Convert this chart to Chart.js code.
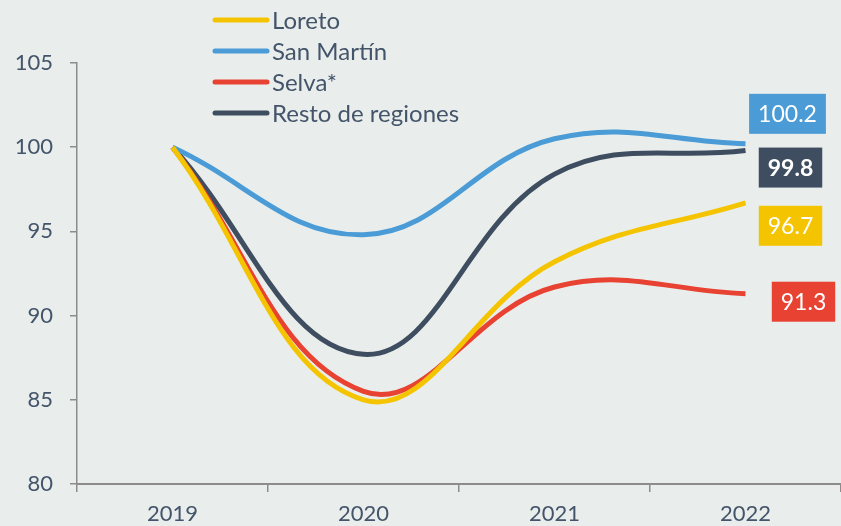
<!DOCTYPE html>
<html><head><meta charset="utf-8">
<script src="https://cdn.jsdelivr.net/npm/chart.js@4/dist/chart.umd.min.js"></script>
<style>html,body{margin:0;padding:0;background:#e9eeec;}canvas{display:block;}</style>
</head><body>
<canvas id="c" width="841" height="526"></canvas>
<script>
const years = ['2019', '2020', '2021', '2022'];
const loreto = [100, 85.0, 93.2, 96.7];
const sanMartin = [100, 94.8, 100.5, 100.2];
const selva = [100, 85.5, 91.7, 91.3];
const resto = [100, 87.7, 98.4, 99.8];
const yTicks = [80, 85, 90, 95, 100, 105];

const TXT = '#44546a';
const FONT = 'Lato, "Open Sans", sans-serif';

const series = [
  {label: 'Loreto', data: loreto, color: '#f5c400', box: {dx: 45, dy: 23, bold: false}},
  {label: 'San Martín', data: sanMartin, color: '#4a9bd6', box: {dx: 42, dy: -30, bold: false}},
  {label: 'Selva*', data: selva, color: '#e84232', box: {dx: 58, dy: 8, bold: false}},
  {label: 'Resto de regiones', data: resto, color: '#3f4d60', box: {dx: 45, dy: 17, bold: true}}
];

const legendPlugin = {
  id: 'legendLines',
  afterDraw(chart) {
    const ctx = chart.ctx;
    ctx.save();
    ctx.font = '24px ' + FONT;
    ctx.textBaseline = 'middle';
    chart.data.datasets.forEach((ds, i) => {
      const y = 20 + i * 31;
      ctx.strokeStyle = ds.borderColor;
      ctx.lineWidth = 5;
      ctx.lineCap = 'round';
      ctx.beginPath(); ctx.moveTo(215, y); ctx.lineTo(267, y); ctx.stroke();
      ctx.fillStyle = TXT;
      ctx.textAlign = 'left';
      ctx.fillText(ds.label, 272, y + 1);
    });
    ctx.restore();
  }
};

const boxPlugin = {
  id: 'endBoxes',
  afterDatasetsDraw(chart) {
    const ctx = chart.ctx;
    ctx.save();
    chart.data.datasets.forEach((ds, i) => {
      const meta = chart.getDatasetMeta(i);
      const pt = meta.data[meta.data.length - 1];
      const v = ds.data[ds.data.length - 1];
      const b = series[i].box;
      const txt = v.toFixed(1);
      ctx.font = (b.bold ? 'bold ' : '') + '23px ' + FONT;
      const w = ctx.measureText(txt).width + 18;
      const h = 40;
      const cx = pt.x + b.dx, cy = pt.y + b.dy;
      ctx.fillStyle = ds.borderColor;
      ctx.fillRect(cx - w / 2, cy - h / 2, w, h);
      ctx.fillStyle = '#ffffff';
      ctx.textAlign = 'center';
      ctx.textBaseline = 'middle';
      ctx.fillText(txt, cx, cy + 1);
    });
    ctx.restore();
  }
};

new Chart(document.getElementById('c'), {
  type: 'line',
  data: {
    labels: years,
    datasets: series.map(s => ({
      label: s.label, data: s.data, borderColor: s.color, backgroundColor: s.color,
      borderWidth: 5, pointRadius: 0, tension: 0.4, fill: false, clip: false
    }))
  },
  options: {
    responsive: false,
    animation: false,
    layout: {padding: {top: 63, right: -4, left: 0, bottom: 0}},
    plugins: {legend: {display: false}, tooltip: {enabled: false}},
    scales: {
      x: {
        offset: true,
        grid: {offset: true, drawOnChartArea: false, color: '#8c8c8c', tickLength: 8, lineWidth: 1.5},
        border: {color: '#8c8c8c', width: 2},
        ticks: {color: TXT, font: {family: FONT, size: 22}, padding: 9, maxRotation: 0},
        afterFit(s) { s.height = 42; }
      },
      y: {
        min: 80, max: 105,
        afterBuildTicks(s) { s.ticks = yTicks.map(v => ({value: v})); },
        grid: {drawOnChartArea: false, color: '#8c8c8c', tickLength: 7, lineWidth: 1.5},
        border: {color: '#8c8c8c', width: 1.5},
        ticks: {color: TXT, font: {family: FONT, size: 22}, padding: 17},
        afterFit(s) { s.width = 77; }
      }
    }
  },
  plugins: [legendPlugin, boxPlugin]
});
</script>
</body></html>
